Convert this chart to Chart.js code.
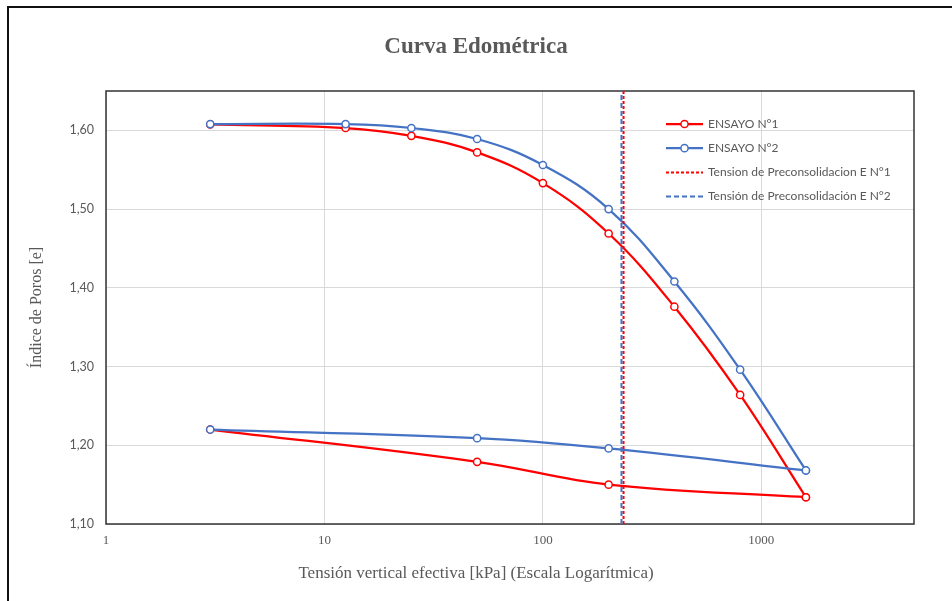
<!DOCTYPE html>
<html>
<head>
<meta charset="utf-8">
<script src="https://cdn.jsdelivr.net/npm/chart.js@4.4.1/dist/chart.umd.min.js"></script>
<style>
html, body { margin: 0; padding: 0; background: #ffffff; }
canvas { display: block; }
</style>
</head>
<body>
<canvas id="chart" width="952" height="601"></canvas>
<script>
// ---------- DATA ----------
const chartTitle = 'Curva Edométrica';
const xAxisTitle = 'Tensión vertical efectiva [kPa] (Escala Logarítmica)';
const yAxisTitle = 'Índice de Poros [e]';
const seriesNames = ['ENSAYO N°1', 'ENSAYO N°2', 'Tension de Preconsolidacion E N°1', 'Tensión de Preconsolidación E N°2'];

const stressLoad = [3, 12.5, 25, 50, 100, 200, 400, 800, 1600];
const stressUnload = [1600, 200, 50, 3];

const voidRatio1Load = [1.6075, 1.603, 1.593, 1.572, 1.533, 1.469, 1.376, 1.264, 1.134];
const voidRatio1Unload = [1.134, 1.150, 1.179, 1.220];
const voidRatio2Load = [1.608, 1.608, 1.603, 1.589, 1.556, 1.500, 1.408, 1.296, 1.168];
const voidRatio2Unload = [1.168, 1.196, 1.209, 1.220];

const preconsolidation1 = 234;
const preconsolidation2 = 229;

const xTicks = [1, 10, 100, 1000];
const xRange = [1, 5000];
const yTicks = [1.10, 1.20, 1.30, 1.40, 1.50, 1.60];
const yRange = [1.10, 1.65];

// ---------- STYLE ----------
const RED = '#FF0000';
const BLUE = '#4472C4';
const TEXT = '#595959';
const GRID = '#d9d9d9';

const toXY = (xs, ys) => xs.map((x, i) => ({ x: x, y: ys[i] }));
const vline = (x) => [{ x: x, y: yRange[0] }, { x: x, y: yRange[1] }];

const curveStyle = (color) => ({
  borderColor: color,
  backgroundColor: '#FFFFFF',
  borderWidth: 2.25,
  pointRadius: 3.6,
  pointHoverRadius: 3.6,
  pointBorderWidth: 1.5,
  pointBackgroundColor: '#FFFFFF',
  pointBorderColor: color,
  showLine: true,
  tension: 0.4,
  fill: false
});

const datasets = [
  { label: seriesNames[3], data: vline(preconsolidation2), borderColor: BLUE, borderDash: [5, 3], borderWidth: 2, pointRadius: 0, showLine: true, tension: 0, legendKey: 3 },
  { label: seriesNames[2], data: vline(preconsolidation1), borderColor: RED, borderDash: [3, 2], borderWidth: 2, pointRadius: 0, showLine: true, tension: 0, legendKey: 2 },
  Object.assign({ label: seriesNames[1], data: toXY(stressLoad, voidRatio2Load), legendKey: 1 }, curveStyle(BLUE)),
  Object.assign({ label: seriesNames[1] + ' (descarga)', data: toXY(stressUnload, voidRatio2Unload) }, curveStyle(BLUE)),
  Object.assign({ label: seriesNames[0], data: toXY(stressLoad, voidRatio1Load), legendKey: 0 }, curveStyle(RED)),
  Object.assign({ label: seriesNames[0] + ' (descarga)', data: toXY(stressUnload, voidRatio1Unload) }, curveStyle(RED))
];

// ---------- PLUGINS ----------
const framePlugin = {
  id: 'frame',
  beforeDraw(chart) {
    const ctx = chart.ctx;
    ctx.save();
    ctx.fillStyle = '#FFFFFF';
    ctx.fillRect(0, 0, chart.width, chart.height);
    ctx.strokeStyle = '#111111';
    ctx.lineWidth = 2;
    ctx.strokeRect(8, 7, chart.width + 20, chart.height + 20);
    ctx.restore();
  },
  beforeDatasetsDraw(chart) {
    const a = chart.chartArea;
    const ctx = chart.ctx;
    ctx.save();
    ctx.strokeStyle = '#333333';
    ctx.lineWidth = 1.5;
    ctx.strokeRect(a.left, a.top, a.right - a.left, a.bottom - a.top);
    ctx.restore();
  }
};

const legendPlugin = {
  id: 'insideLegend',
  afterDraw(chart) {
    const ctx = chart.ctx;
    const x1 = 666, x2 = 703, tx = 708;
    const y0 = 124, dy = 24.2;
    const entries = [];
    chart.data.datasets.forEach(ds => { if (ds.legendKey !== undefined) entries[ds.legendKey] = ds; });
    ctx.save();
    entries.forEach((ds, i) => {
      const y = y0 + i * dy;
      ctx.beginPath();
      ctx.setLineDash(ds.borderDash || []);
      ctx.strokeStyle = ds.borderColor;
      ctx.lineWidth = ds.borderWidth;
      ctx.moveTo(x1, y);
      ctx.lineTo(x2, y);
      ctx.stroke();
      ctx.setLineDash([]);
      if (ds.pointRadius > 0) {
        ctx.beginPath();
        ctx.arc((x1 + x2) / 2, y, ds.pointRadius, 0, Math.PI * 2);
        ctx.fillStyle = '#FFFFFF';
        ctx.fill();
        ctx.lineWidth = ds.pointBorderWidth;
        ctx.strokeStyle = ds.pointBorderColor;
        ctx.stroke();
      }
      ctx.fillStyle = TEXT;
      ctx.font = '12px Lato, "Liberation Sans", sans-serif';
      ctx.textAlign = 'left';
      ctx.textBaseline = 'middle';
      ctx.fillText(ds.label, tx, y);
    });
    ctx.restore();
  }
};

// ---------- CHART ----------
new Chart(document.getElementById('chart'), {
  type: 'scatter',
  data: { datasets: datasets },
  plugins: [framePlugin, legendPlugin],
  options: {
    responsive: false,
    animation: false,
    layout: { padding: 0 },
    plugins: {
      legend: { display: false },
      tooltip: { enabled: false },
      title: {
        display: true,
        text: chartTitle,
        color: TEXT,
        font: { family: '"Liberation Serif", "Times New Roman", serif', size: 23, weight: 'bold', lineHeight: 1.2 },
        padding: { top: 33, bottom: 30.4 }
      },
      subtitle: {
        display: true,
        position: 'bottom',
        text: xAxisTitle,
        color: TEXT,
        font: { family: '"Liberation Serif", "Times New Roman", serif', size: 17, weight: 'normal', lineHeight: 1.2 },
        padding: { top: 7.8, bottom: 16.8 }
      }
    },
    scales: {
      x: {
        type: 'logarithmic',
        position: 'bottom',
        min: xRange[0],
        max: xRange[1],
        afterBuildTicks: (scale) => { scale.ticks = xTicks.map(v => ({ value: v, major: true })); },
        afterFit: (scale) => { scale.height = 32; },
        ticks: {
          autoSkip: false,
          maxRotation: 0,
          padding: 9,
          color: TEXT,
          font: { family: '"Liberation Serif", "Times New Roman", serif', size: 13 },
          callback: (v) => String(v)
        },
        grid: { color: GRID, lineWidth: 1, drawTicks: false },
        border: { display: false },
        title: { display: false }
      },
      y: {
        type: 'linear',
        position: 'left',
        min: yRange[0],
        max: yRange[1],
        afterBuildTicks: (scale) => { scale.ticks = yTicks.map(v => ({ value: v })); },
        afterFit: (scale) => { scale.width = 106; },
        ticks: {
          padding: 12,
          color: TEXT,
          font: { family: 'Lato, "Liberation Sans", sans-serif', size: 12.5 },
          callback: (v) => Number(v).toFixed(2).replace('.', ',')
        },
        grid: { color: GRID, lineWidth: 1, drawTicks: false },
        border: { display: false },
        title: {
          display: true,
          text: yAxisTitle,
          color: TEXT,
          font: { family: '"Liberation Serif", "Times New Roman", serif', size: 16, lineHeight: 1.2 },
          padding: { top: 27.5, bottom: 0 }
        }
      },
      yRight: {
        type: 'linear',
        position: 'right',
        min: 0,
        max: 1,
        display: true,
        afterFit: (scale) => { scale.width = 38; },
        ticks: { display: false },
        grid: { display: false, drawTicks: false },
        border: { display: false },
        title: { display: false }
      }
    }
  }
});
</script>
</body>
</html>
